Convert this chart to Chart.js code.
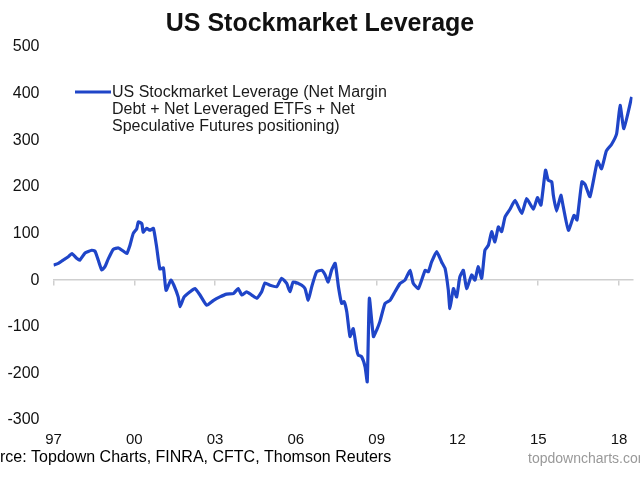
<!DOCTYPE html>
<html>
<head>
<meta charset="utf-8">
<script src="https://cdn.jsdelivr.net/npm/chart.js@4"></script>
<style>
html,body{margin:0;padding:0;background:#fff;}
#wrap{width:640px;height:480px;position:relative;}
</style>
</head>
<body>
<div id="wrap"><canvas id="c" width="640" height="480"></canvas></div>
<script>
const chartTitle = 'US Stockmarket Leverage';
const legendLines = ['US Stockmarket Leverage (Net Margin', 'Debt + Net Leveraged ETFs + Net', 'Speculative Futures positioning)'];
const sourceText = 'Source: Topdown Charts, FINRA, CFTC, Thomson Reuters';
const siteText = 'topdowncharts.com';

const xTickYears = [1997, 2000, 2003, 2006, 2009, 2012, 2015, 2018];
const yTickValues = [-300, -200, -100, 0, 100, 200, 300, 400, 500];

const years = [
 1997.00,1997.18,1997.36,1997.55,1997.68,1997.86,1997.98,1998.17,1998.42,1998.54,
 1998.66,1998.79,1998.91,1999.03,1999.22,1999.41,1999.60,1999.72,1999.84,1999.96,
 2000.09,2000.15,2000.28,2000.33,2000.46,2000.58,2000.71,2000.83,2000.95,2001.08,
 2001.18,2001.36,2001.47,2001.63,2001.70,2001.85,2002.07,2002.25,2002.44,2002.69,
 2002.93,2003.18,2003.43,2003.68,2003.86,2003.99,2004.17,2004.36,2004.55,2004.73,
 2004.85,2005.04,2005.29,2005.47,2005.66,2005.78,2005.90,2006.09,2006.22,2006.34,
 2006.46,2006.59,2006.77,2006.96,2007.08,2007.20,2007.33,2007.46,2007.58,2007.70,
 2007.79,2007.89,2008.01,2008.13,2008.26,2008.32,2008.44,2008.57,2008.65,2008.73,
 2008.88,2009.00,2009.12,2009.31,2009.50,2009.68,2009.87,2010.05,2010.24,2010.36,
 2010.55,2010.80,2010.92,2011.04,2011.23,2011.41,2011.54,2011.66,2011.72,2011.85,
 2011.97,2012.09,2012.22,2012.34,2012.53,2012.65,2012.77,2012.90,2013.02,2013.15,
 2013.27,2013.39,2013.52,2013.64,2013.77,2013.95,2014.14,2014.39,2014.57,2014.82,
 2014.97,2015.10,2015.27,2015.37,2015.50,2015.56,2015.68,2015.84,2015.93,2016.12,
 2016.33,2016.44,2016.62,2016.74,2016.92,2017.20,2017.35,2017.53,2017.72,2017.91,
 2018.04,2018.18,2018.47
];
const leverage = [
 32,36,43,50,57,47,43,58,64,62,
 43,22,29,45,66,69,62,57,75,100,
 110,125,121,103,111,107,111,71,24,26,
 -22,0,-11,-36,-57,-36,-25,-18,-32,-54,
 -44,-36,-30,-29,-18,-32,-25,-32,-39,-25,
 -6,-11,-14,4,-7,-25,-4,-7,-11,-18,
 -43,-14,18,21,12,-4,22,36,-14,-50,
 -46,-68,-121,-104,-150,-161,-164,-186,-218,-39,
 -121,-107,-89,-50,-43,-25,-7,0,21,-7,
 -18,21,18,39,61,39,25,-21,-61,-18,
 -36,7,21,-18,11,0,29,4,64,75,
 104,82,114,104,136,152,171,143,175,152,
 177,161,236,214,211,182,148,182,157,107,
 139,129,211,205,179,255,239,277,291,314,
 375,325,393
];

const FONT = "'Liberation Sans', Arial, Helvetica, sans-serif";
const LINE_COLOR = '#1f45c8';

const points = years.map((y, i) => ({x: y, y: leverage[i]}));

const setXTicks = s => { s.ticks = xTickYears.map(v => ({value: v})); };
const setYTicks = s => { s.ticks = yTickValues.map(v => ({value: v})); };

const textPlugin = {
  id: 'texts',
  afterDraw(chart) {
    const ctx = chart.ctx;
    ctx.save();
    ctx.fillStyle = '#111';
    ctx.font = 'bold 25px ' + FONT;
    ctx.textAlign = 'center';
    ctx.textBaseline = 'middle';
    ctx.fillText(chartTitle, 320, 24);
    ctx.strokeStyle = LINE_COLOR;
    ctx.lineWidth = 3.2;
    ctx.beginPath();
    ctx.moveTo(75, 92);
    ctx.lineTo(111, 92);
    ctx.stroke();
    ctx.fillStyle = '#1a1a1a';
    ctx.font = '16px ' + FONT;
    ctx.textAlign = 'left';
    legendLines.forEach((t, i) => ctx.fillText(t, 112, 93 + i * 17));
    ctx.fillStyle = '#000';
    ctx.font = '16px ' + FONT;
    ctx.fillText(sourceText, -28.5, 458);
    ctx.fillStyle = '#999';
    ctx.font = '14px ' + FONT;
    ctx.fillText(siteText, 528, 459);
    ctx.restore();
  }
};

new Chart(document.getElementById('c'), {
  type: 'line',
  data: {
    datasets: [{
      label: legendLines.join(' '),
      data: points,
      borderColor: LINE_COLOR,
      borderWidth: 3.2,
      pointRadius: 0,
      tension: 0.15,
      fill: false,
      xAxisID: 'x',
      yAxisID: 'y'
    }]
  },
  options: {
    responsive: false,
    animation: false,
    devicePixelRatio: 1,
    layout: { padding: { left: 0, right: 7.5, top: 47, bottom: 0 } },
    plugins: { legend: { display: false }, title: { display: false }, tooltip: { enabled: false } },
    scales: {
      x: {
        type: 'linear',
        position: 'bottom',
        min: 1997,
        max: 2018.5,
        afterBuildTicks: setXTicks,
        afterFit: s => { s.height = 60; },
        grid: { display: false, drawTicks: false },
        border: { display: false },
        ticks: {
          padding: 11,
          color: '#111',
          font: { family: FONT, size: 15 },
          maxRotation: 0,
          autoSkip: false,
          callback: v => String(Math.round(v) % 100).padStart(2, '0')
        }
      },
      x2: {
        type: 'linear',
        axis: 'x',
        position: { y: 0 },
        min: 1997,
        max: 2018.5,
        afterBuildTicks: setXTicks,
        afterFit: s => { s.height = 0; },
        grid: { display: true, drawOnChartArea: false, drawTicks: true, tickLength: 5, color: '#cfcfcf', lineWidth: 1.5 },
        border: { display: true, color: '#cfcfcf', width: 1.5 },
        ticks: { display: false }
      },
      y: {
        type: 'linear',
        position: 'left',
        min: -300,
        max: 500,
        afterBuildTicks: setYTicks,
        afterFit: s => { s.width = 53.5; },
        grid: { display: false, drawTicks: false },
        border: { display: false },
        ticks: {
          padding: 14,
          color: '#111',
          font: { family: FONT, size: 16 },
          callback: v => String(v)
        }
      }
    }
  },
  plugins: [textPlugin]
});
</script>
</body>
</html>
